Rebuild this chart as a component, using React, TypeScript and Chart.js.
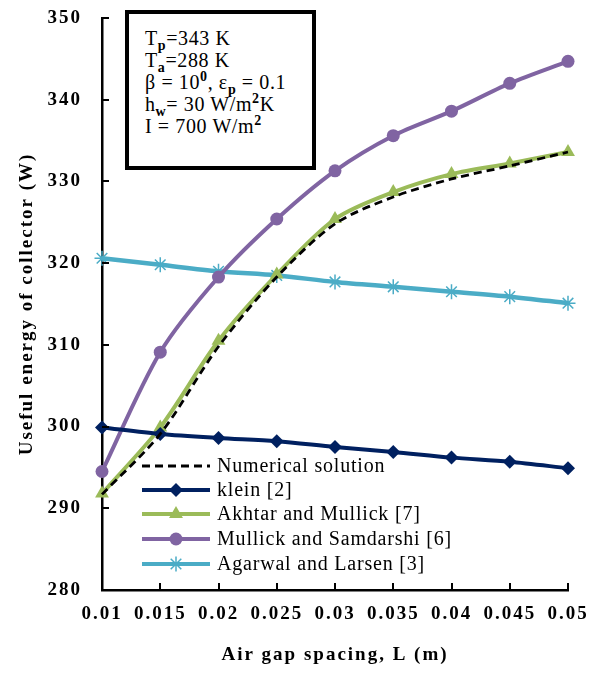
import React, { useEffect, useRef } from "react";
import { Chart, registerables } from "chart.js";

Chart.register(...registerables);

const gapSpacing = [0.01, 0.015, 0.02, 0.025, 0.03, 0.035, 0.04, 0.045, 0.05];
const xTickLabels = ["0.01", "0.015", "0.02", "0.025", "0.03", "0.035", "0.04", "0.045", "0.05"];
const numerical = [291.7, 299.1, 309.8, 318.3, 324.8, 328.1, 330.3, 331.9, 333.6];
const klein = [299.9, 299.1, 298.6, 298.2, 297.5, 296.9, 296.2, 295.7, 294.9];
const akhtar = [291.8, 299.9, 310.5, 318.6, 325.4, 328.7, 330.9, 332.2, 333.6];
const mullick = [294.5, 309.1, 318.3, 325.4, 331.3, 335.6, 338.6, 342.0, 344.7];
const agarwal = [320.6, 319.8, 319.0, 318.5, 317.7, 317.1, 316.5, 315.9, 315.1];
const seriesLabels = [
  "Numerical solution",
  "klein [2]",
  "Akhtar and Mullick [7]",
  "Mullick and Samdarshi [6]",
  "Agarwal and Larsen [3]",
];
const seriesColors = ["#000000", "#002060", "#9BBB59", "#8064A2", "#4BACC6"];
const yMin = 280;
const yMax = 350;
const yStep = 10;

const SERIF = '"Liberation Serif", "Times New Roman", serif';

function drawMarker(ctx: CanvasRenderingContext2D, style: string, x: number, y: number, r: number, color: string) {
  ctx.save();
  ctx.fillStyle = color;
  ctx.strokeStyle = color;
  ctx.beginPath();
  if (style === "rectRot") {
    ctx.moveTo(x, y - r);
    ctx.lineTo(x + r, y);
    ctx.lineTo(x, y + r);
    ctx.lineTo(x - r, y);
    ctx.closePath();
    ctx.fill();
  } else if (style === "triangle") {
    const a = -Math.PI / 2;
    for (let i = 0; i < 3; i++) {
      const ang = a + (i * 2 * Math.PI) / 3;
      const px = x + Math.cos(ang) * r;
      const py = y + Math.sin(ang) * r;
      if (i === 0) ctx.moveTo(px, py);
      else ctx.lineTo(px, py);
    }
    ctx.closePath();
    ctx.fill();
  } else if (style === "circle") {
    ctx.arc(x, y, r, 0, Math.PI * 2);
    ctx.fill();
  } else if (style === "star") {
    ctx.lineWidth = 1.5;
    for (let i = 0; i < 4; i++) {
      const ang = (i * Math.PI) / 4;
      ctx.moveTo(x - Math.cos(ang) * r, y - Math.sin(ang) * r);
      ctx.lineTo(x + Math.cos(ang) * r, y + Math.sin(ang) * r);
    }
    ctx.stroke();
  }
  ctx.restore();
}

const pointStyles = ["line", "rectRot", "triangle", "circle", "star"];
const markerRadii = [0, 7, 8, 6.5, 7.5];

const customPlugin = {
  id: "customDecor",
  beforeDraw(chart: any) {
    chart.ctx.letterSpacing = "2px";
  },
  afterDraw(chart: any) {
    const ctx: CanvasRenderingContext2D = chart.ctx;
    const { chartArea } = chart;
    const xs = chart.scales.x;
    const ys = chart.scales.y;
    ctx.save();
    ctx.letterSpacing = "0px";
    // inward tick marks
    ctx.strokeStyle = "#000";
    ctx.lineWidth = 2;
    ctx.beginPath();
    for (let v = yMin; v <= yMax; v += yStep) {
      const py = Math.round(ys.getPixelForValue(v));
      ctx.moveTo(chartArea.left, py);
      ctx.lineTo(chartArea.left + 7, py);
    }
    for (const v of gapSpacing) {
      const px = Math.round(xs.getPixelForValue(v));
      ctx.moveTo(px, chartArea.bottom);
      ctx.lineTo(px, chartArea.bottom - 7);
    }
    ctx.stroke();

    // legend
    const rowsY = [458, 482, 506, 531, 556];
    const x0 = 134;
    const x1 = 202;
    const mx = 168;
    ctx.font = `20px ${SERIF}`;
    ctx.letterSpacing = "0.8px";
    ctx.textBaseline = "middle";
    ctx.textAlign = "left";
    chart.data.datasets.forEach((ds: any, i: number) => {
      const y = rowsY[i];
      ctx.save();
      ctx.strokeStyle = seriesColors[i];
      ctx.lineWidth = i === 0 ? 2.8 : 4;
      if (i === 0) ctx.setLineDash([8, 5]);
      ctx.beginPath();
      ctx.moveTo(x0, y);
      ctx.lineTo(x1, y);
      ctx.stroke();
      ctx.restore();
      if (i > 0) drawMarker(ctx, pointStyles[i], mx, y, markerRadii[i], seriesColors[i]);
      ctx.fillStyle = "#000";
      ctx.fillText(ds.label, 209, y + 1);
    });
    ctx.restore();
  },
};

export default function App() {
  const canvasRef = useRef<HTMLCanvasElement | null>(null);

  useEffect(() => {
    const canvas = canvasRef.current;
    if (!canvas) return;
    const seriesValues = [numerical, klein, akhtar, mullick, agarwal];
    const datasets = seriesValues.map((vals, i) => ({
      label: seriesLabels[i],
      data: gapSpacing.map((x, j) => ({ x, y: vals[j] })),
      borderColor: seriesColors[i],
      backgroundColor: seriesColors[i],
      borderWidth: i === 0 ? 2.8 : i === 4 ? 4.5 : 4,
      borderDash: i === 0 ? [8, 5] : [],
      pointStyle: i === 0 ? false : (pointStyles[i] as any),
      pointRadius: i === 0 ? 0 : markerRadii[i],
      pointBorderWidth: i === 4 ? 1.5 : 0,
      pointBorderColor: seriesColors[i],
      pointBackgroundColor: seriesColors[i],
      tension: 0.3,
      clip: false as any,
      fill: false,
    }));

    const chart = new Chart(canvas, {
      type: "line",
      data: { datasets },
      options: {
        animation: false,
        responsive: false,
        maintainAspectRatio: false,
        layout: { autoPadding: false, padding: { top: 10, right: 22, left: 0, bottom: 0 } },
        plugins: {
          legend: { display: false },
          tooltip: { enabled: false },
        },
        scales: {
          x: {
            type: "linear",
            min: gapSpacing[0],
            max: gapSpacing[gapSpacing.length - 1],
            afterBuildTicks: (scale: any) => {
              scale.ticks = gapSpacing.map((v) => ({ value: v }));
            },
            afterFit: (scale: any) => {
              scale.height = 75;
            },
            grid: { display: false, drawTicks: true, tickLength: 15 },
            border: { display: true, color: "#000", width: 2.5 },
            ticks: {
              color: "#000",
              font: { family: SERIF, size: 19, weight: "bold", lineHeight: 1 },
              padding: 0,
              maxRotation: 0,
              autoSkip: false,
              callback: (_v: any, i: number) => xTickLabels[i],
            },
            title: {
              display: true,
              text: "Air gap spacing, L (m)",
              color: "#000",
              font: { family: SERIF, size: 19, weight: "bold", lineHeight: 1 },
              padding: { top: 0, bottom: 0 },
            },
          },
          y: {
            min: yMin,
            max: yMax,
            afterFit: (scale: any) => {
              scale.width = 94;
            },
            grid: { display: false, drawTicks: true, tickLength: 20 },
            border: { display: true, color: "#000", width: 2.5 },
            ticks: {
              stepSize: yStep,
              color: "#000",
              font: { family: SERIF, size: 19, weight: "bold", lineHeight: 1 },
              padding: 0,
            },
            title: {
              display: true,
              text: "Useful energy of collector (W)",
              color: "#000",
              font: { family: SERIF, size: 19, weight: "bold", lineHeight: 1 },
              padding: { top: 10, bottom: 0 },
            },
          },
        },
      },
      plugins: [customPlugin],
    });
    return () => chart.destroy();
  }, []);

  const supStyle: React.CSSProperties = { fontSize: "0.7em", fontWeight: "bold", lineHeight: 0, verticalAlign: "super" };
  const subStyle: React.CSSProperties = { fontSize: "0.7em", fontWeight: "bold", lineHeight: 0, verticalAlign: "sub" };

  return (
    <div style={{ position: "relative", width: 582, height: 657 }}>
      <canvas ref={canvasRef} width={582} height={657} style={{ display: "block" }} />
      <div
        style={{
          position: "absolute",
          left: 117,
          top: 2,
          width: 191,
          height: 160,
          boxSizing: "border-box",
          border: "4px solid #000",
          background: "#fff",
          paddingLeft: 16,
          paddingTop: 13,
          fontFamily: SERIF,
          fontSize: 20,
          lineHeight: "22px",
          letterSpacing: "0.6px",
          color: "#000",
          whiteSpace: "nowrap",
        }}
      >
        <div>T<span style={subStyle}>p</span>=343 K</div>
        <div>T<span style={subStyle}>a</span>=288 K</div>
        <div>β = 10<span style={supStyle}>0</span>, ε<span style={subStyle}>p</span> = 0.1</div>
        <div>h<span style={subStyle}>w</span>= 30 W/m<span style={supStyle}>2</span>K</div>
        <div>I = 700 W/m<span style={supStyle}>2</span></div>
      </div>
    </div>
  );
}
